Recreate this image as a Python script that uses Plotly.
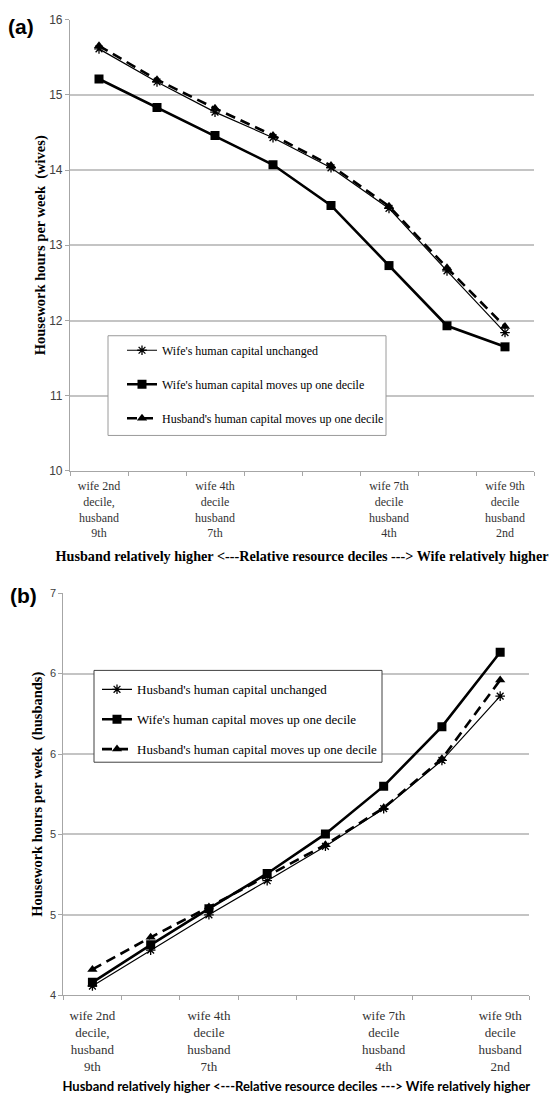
import plotly.graph_objects as go

# ---------------- data ----------------
positions = [1, 2, 3, 4, 5, 6, 7, 8]
tick_positions = [1, 3, 6, 8]
tick_labels = [
    "wife 2nd<br>decile,<br>husband<br>9th",
    "wife 4th<br>decile<br>husband<br>7th",
    "wife 7th<br>decile<br>husband<br>4th",
    "wife 9th<br>decile<br>husband<br>2nd",
]
boundaries = [0.5, 1.5, 2.5, 3.5, 4.5, 5.5, 6.5, 7.5, 8.5]

# panel (a) wives
wives_unchanged = [15.61, 15.17, 14.77, 14.43, 14.03, 13.49, 12.66, 11.84]
wives_wife_up = [15.21, 14.83, 14.46, 14.07, 13.53, 12.73, 11.93, 11.65]
wives_husband_up = [15.65, 15.20, 14.82, 14.46, 14.06, 13.52, 12.70, 11.92]

# panel (b) husbands
husb_unchanged = [4.057, 4.28, 4.50, 4.712, 4.926, 5.16, 5.46, 5.86]
husb_wife_up = [4.08, 4.313, 4.538, 4.757, 5.003, 5.30, 5.67, 6.133]
husb_husband_up = [4.16, 4.36, 4.548, 4.743, 4.935, 5.165, 5.47, 5.96]

b_tickvals = [4, 4.5, 5, 5.5, 6, 6.5]
b_ticktext = ["4", "5", "5", "6", "6", "7"]

W, H = 559, 1094
SERIF = "Liberation Serif, Times New Roman, serif"
SANS = "Liberation Sans, Arial, sans-serif"
GRID = "#c4c4c4"
AXIS = "#a6a6a6"


def px(x):
    return x / W


def py(y):
    return 1 - y / H


fig = go.Figure()


def add_series(x, y, name, style, xa, ya, legend, group):
    if style == "star":
        line = dict(color="black", width=1.2)
        marker = dict(symbol="asterisk-open", size=8, color="black",
                      line=dict(color="black", width=1.3))
    elif style == "square":
        line = dict(color="black", width=2.6)
        marker = dict(symbol="square", size=9, color="black")
    else:
        line = dict(color="black", width=2.6, dash="10px,6px")
        marker = dict(symbol="triangle-up", size=9, color="black")
    fig.add_trace(go.Scatter(x=x, y=y, name=name, mode="lines+markers",
                             line=line, marker=marker, xaxis=xa, yaxis=ya,
                             legend=legend, legendgroup=group))


add_series(positions, wives_unchanged, "Wife's human capital unchanged", "star", "x", "y", "legend", "a1")
add_series(positions, wives_wife_up, "Wife's human capital moves up one decile", "square", "x", "y", "legend", "a2")
add_series(positions, wives_husband_up, "Husband's human capital moves up one decile", "tri", "x", "y", "legend", "a3")

add_series(positions, husb_unchanged, "Husband's human capital unchanged", "star", "x2", "y2", "legend2", "b1")
add_series(positions, husb_wife_up, "Wife's human capital moves up one decile", "square", "x2", "y2", "legend2", "b2")
add_series(positions, husb_husband_up, "Husband's human capital moves up one decile", "tri", "x2", "y2", "legend2", "b3")

xcommon = dict(range=[0.5, 8.5], tickmode="array", tickvals=tick_positions,
               ticktext=tick_labels, ticks="", showgrid=False, zeroline=False,
               showline=True, linecolor=AXIS, linewidth=1.2,
               minor=dict(tickmode="array", tickvals=boundaries, ticks="outside",
                          ticklen=4, tickcolor=AXIS, tickwidth=1.2, showgrid=False),
               fixedrange=True)

fig.update_layout(
    width=W, height=H,
    margin=dict(l=0, r=0, t=0, b=0),
    paper_bgcolor="white", plot_bgcolor="white",
    showlegend=True,
    xaxis=dict(xcommon, domain=[px(70), px(534)], anchor="y",
               tickfont=dict(family=SERIF, size=12, color="#333333"),
               ticklabelstandoff=4,
               title=dict(text="<b>Husband relatively higher &lt;---Relative resource deciles ---&gt; Wife relatively higher</b>",
                          font=dict(family=SERIF, size=14.2, color="black"), standoff=11)),
    yaxis=dict(domain=[py(470), py(12.7)], range=[10, 16], dtick=1, anchor="x",
               showgrid=True, gridcolor=GRID, gridwidth=1.5, zeroline=False,
               showline=True, linecolor=AXIS, linewidth=1.2,
               ticks="outside", ticklen=4, tickcolor=AXIS,
               tickfont=dict(family=SANS, size=12, color="#404040"),
               title=dict(text="<b>Housework hours per week  (wives)</b>",
                          font=dict(family=SERIF, size=14.5, color="black"), standoff=0),
               fixedrange=True),
    xaxis2=dict(xcommon, domain=[px(63.3), px(529.3)], anchor="y2",
                tickfont=dict(family=SERIF, size=13, color="#333333"),
                ticklabelstandoff=8,
                title=dict(text="<b>Husband relatively higher &lt;---Relative resource deciles ---&gt; Wife relatively higher</b>",
                           font=dict(family="Lato, " + SANS, size=13, color="black"), standoff=11)),
    yaxis2=dict(domain=[py(1001), py(593.8)], range=[4, 6.5], anchor="x2",
                tickmode="array", tickvals=b_tickvals, ticktext=b_ticktext,
                showgrid=True, gridcolor=GRID, gridwidth=1.5, zeroline=False,
                showline=True, linecolor=AXIS, linewidth=1.2,
                ticks="outside", ticklen=4, tickcolor=AXIS,
                tickfont=dict(family=SANS, size=11, color="#404040"),
                title=dict(text="<b>Housework hours per week  (husbands)</b>",
                           font=dict(family=SERIF, size=14.5, color="black"), standoff=3),
                fixedrange=True),
    legend=dict(x=px(122), y=py(333), xanchor="left", yanchor="top",
                bgcolor="rgba(0,0,0,0)", borderwidth=0,
                font=dict(family=SERIF, size=12, color="black"),
                traceorder="grouped", tracegroupgap=15),
    legend2=dict(x=px(97), y=py(676), xanchor="left", yanchor="top",
                 bgcolor="rgba(0,0,0,0)", borderwidth=0,
                 font=dict(family=SERIF, size=13, color="black"),
                 traceorder="grouped", tracegroupgap=10),
    shapes=[
        dict(type="rect", xref="paper", yref="paper", x0=px(108), x1=px(386),
             y0=py(434), y1=py(333), line=dict(color="#9a9a9a", width=1),
             fillcolor="white", layer="above"),
        dict(type="rect", xref="paper", yref="paper", x0=px(94), x1=px(382),
             y0=py(765), y1=py(672), line=dict(color="#404040", width=1),
             fillcolor="white", layer="above"),
    ],
    annotations=[
        dict(text="<b>(a)</b>", x=px(21), y=py(20), xref="paper", yref="paper",
             xanchor="center", yanchor="middle",
             showarrow=False, font=dict(family=SANS, size=21, color="black")),
        dict(text="<b>(b)</b>", x=px(24), y=py(596), xref="paper", yref="paper",
             xanchor="center", yanchor="middle",
             showarrow=False, font=dict(family=SANS, size=21, color="black")),
    ],
)

fig.write_html("out.html", config={"displayModeBar": False},
               post_script="document.body.style.margin='0';document.body.style.overflow='hidden';")
